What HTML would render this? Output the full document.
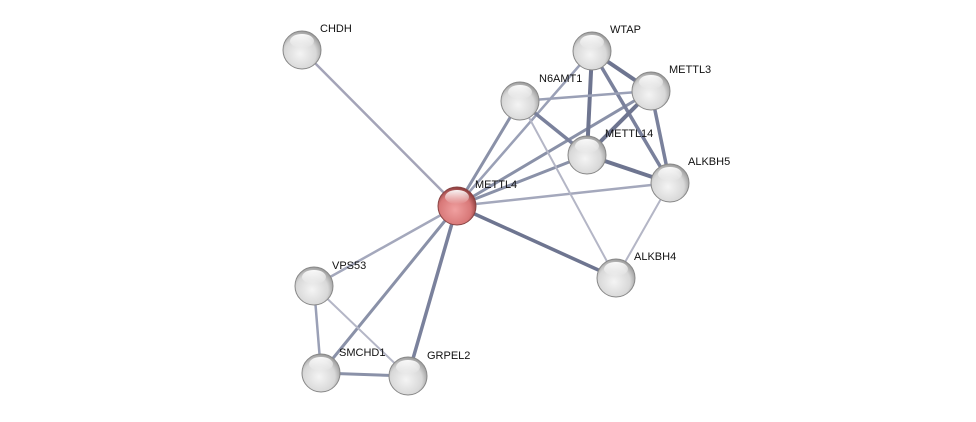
<!DOCTYPE html>
<html><head><meta charset="utf-8"><style>
html,body{margin:0;padding:0;background:#fff;width:976px;height:422px;overflow:hidden}
text{font-family:"Liberation Sans",sans-serif;font-size:11px;fill:#111}
</style></head><body>
<svg width="976" height="422" viewBox="0 0 976 422" xmlns="http://www.w3.org/2000/svg">
<defs>
<radialGradient id="g" cx="0.45" cy="0.6" r="0.6">
<stop offset="0" stop-color="#f4f4f4"/><stop offset="0.7" stop-color="#d8d8d8"/><stop offset="1" stop-color="#9a9a9a"/>
</radialGradient>
<radialGradient id="r" cx="0.45" cy="0.6" r="0.6">
<stop offset="0" stop-color="#f0a0a0"/><stop offset="0.7" stop-color="#d87878"/><stop offset="1" stop-color="#8a3a3a"/>
</radialGradient>
<linearGradient id="h" x1="0" y1="0" x2="0" y2="1">
<stop offset="0" stop-color="#fff" stop-opacity="0.95"/><stop offset="1" stop-color="#fff" stop-opacity="0"/>
</linearGradient>
</defs>
<g stroke-linecap="round">
<line x1="457" y1="206" x2="302" y2="50" stroke="#a4a4b8" stroke-width="2.5"/>
<line x1="457" y1="206" x2="520" y2="101" stroke="#8a91a8" stroke-width="3"/>
<line x1="457" y1="206" x2="592" y2="51" stroke="#9aa0b6" stroke-width="2.5"/>
<line x1="457" y1="206" x2="651" y2="91" stroke="#8a91a8" stroke-width="3"/>
<line x1="457" y1="206" x2="587" y2="155" stroke="#8a91a8" stroke-width="3"/>
<line x1="457" y1="206" x2="670" y2="183" stroke="#a4a8bc" stroke-width="2.5"/>
<line x1="457" y1="206" x2="616" y2="278" stroke="#6e7590" stroke-width="3.5"/>
<line x1="457" y1="206" x2="314" y2="286" stroke="#a4a8bc" stroke-width="2.5"/>
<line x1="457" y1="206" x2="321" y2="373" stroke="#8a91a8" stroke-width="3"/>
<line x1="457" y1="206" x2="408" y2="376" stroke="#7a819c" stroke-width="3.5"/>
<line x1="592" y1="51" x2="651" y2="91" stroke="#6e7590" stroke-width="4"/>
<line x1="592" y1="51" x2="587" y2="155" stroke="#6e7590" stroke-width="4"/>
<line x1="592" y1="51" x2="670" y2="183" stroke="#7a819c" stroke-width="3.5"/>
<line x1="520" y1="101" x2="651" y2="91" stroke="#9aa0b6" stroke-width="2.5"/>
<line x1="520" y1="101" x2="587" y2="155" stroke="#7a819c" stroke-width="3.5"/>
<line x1="520" y1="101" x2="616" y2="278" stroke="#b4b6c6" stroke-width="2"/>
<line x1="651" y1="91" x2="587" y2="155" stroke="#6e7590" stroke-width="4"/>
<line x1="651" y1="91" x2="670" y2="183" stroke="#7a819c" stroke-width="3.5"/>
<line x1="587" y1="155" x2="670" y2="183" stroke="#6e7590" stroke-width="4"/>
<line x1="670" y1="183" x2="616" y2="278" stroke="#b4b6c6" stroke-width="2"/>
<line x1="314" y1="286" x2="321" y2="373" stroke="#9aa0b6" stroke-width="2.5"/>
<line x1="314" y1="286" x2="408" y2="376" stroke="#b4b6c6" stroke-width="2"/>
<line x1="321" y1="373" x2="408" y2="376" stroke="#8a91a8" stroke-width="3"/>
</g>
<g id="nodes">
<g transform="translate(302,50)"><circle r="19" fill="url(#g)" stroke="#888" stroke-width="1"/><ellipse cx="0" cy="-9" rx="12" ry="7" fill="url(#h)"/></g>
<g transform="translate(592,51)"><circle r="19" fill="url(#g)" stroke="#888" stroke-width="1"/><ellipse cx="0" cy="-9" rx="12" ry="7" fill="url(#h)"/></g>
<g transform="translate(651,91)"><circle r="19" fill="url(#g)" stroke="#888" stroke-width="1"/><ellipse cx="0" cy="-9" rx="12" ry="7" fill="url(#h)"/></g>
<g transform="translate(520,101)"><circle r="19" fill="url(#g)" stroke="#888" stroke-width="1"/><ellipse cx="0" cy="-9" rx="12" ry="7" fill="url(#h)"/></g>
<g transform="translate(587,155)"><circle r="19" fill="url(#g)" stroke="#888" stroke-width="1"/><ellipse cx="0" cy="-9" rx="12" ry="7" fill="url(#h)"/></g>
<g transform="translate(670,183)"><circle r="19" fill="url(#g)" stroke="#888" stroke-width="1"/><ellipse cx="0" cy="-9" rx="12" ry="7" fill="url(#h)"/></g>
<g transform="translate(457,206)"><circle r="19" fill="url(#r)" stroke="#844" stroke-width="1"/><ellipse cx="0" cy="-9" rx="12" ry="7" fill="url(#h)"/></g>
<g transform="translate(616,278)"><circle r="19" fill="url(#g)" stroke="#888" stroke-width="1"/><ellipse cx="0" cy="-9" rx="12" ry="7" fill="url(#h)"/></g>
<g transform="translate(314,286)"><circle r="19" fill="url(#g)" stroke="#888" stroke-width="1"/><ellipse cx="0" cy="-9" rx="12" ry="7" fill="url(#h)"/></g>
<g transform="translate(321,373)"><circle r="19" fill="url(#g)" stroke="#888" stroke-width="1"/><ellipse cx="0" cy="-9" rx="12" ry="7" fill="url(#h)"/></g>
<g transform="translate(408,376)"><circle r="19" fill="url(#g)" stroke="#888" stroke-width="1"/><ellipse cx="0" cy="-9" rx="12" ry="7" fill="url(#h)"/></g>
</g>
<text x="320" y="32">CHDH</text>
<text x="610" y="33">WTAP</text>
<text x="669" y="73">METTL3</text>
<text x="539" y="82">N6AMT1</text>
<text x="605" y="137">METTL14</text>
<text x="688" y="165">ALKBH5</text>
<text x="475" y="188">METTL4</text>
<text x="634" y="260">ALKBH4</text>
<text x="332" y="269">VPS53</text>
<text x="339" y="356">SMCHD1</text>
<text x="427" y="359">GRPEL2</text>
</svg>
</body></html>
